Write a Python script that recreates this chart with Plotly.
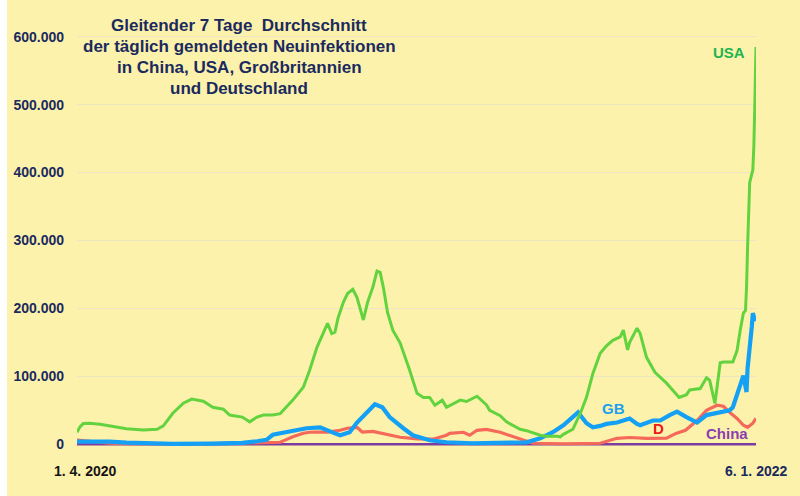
import plotly.graph_objects as go

# ---------------- data (7-day average of daily new infections, in thousands) ----------------
usa_dates = ["2020-04-01","2020-04-04","2020-04-07","2020-04-13","2020-04-23","2020-05-02","2020-05-18","2020-06-03",
             "2020-06-16","2020-06-22","2020-07-01","2020-07-11","2020-07-19","2020-07-30","2020-08-08","2020-08-18",
             "2020-08-24","2020-09-05","2020-09-12","2020-09-19","2020-09-25","2020-10-04","2020-10-11","2020-10-14",
             "2020-10-23","2020-11-02","2020-11-08","2020-11-15","2020-11-21","2020-11-25","2020-11-29","2020-12-02",
             "2020-12-05","2020-12-10","2020-12-14","2020-12-19","2020-12-23","2020-12-28","2020-12-29","2021-01-02",
             "2021-01-07","2021-01-11","2021-01-14","2021-01-17","2021-01-21","2021-01-26","2021-02-02","2021-02-11",
             "2021-02-18","2021-02-24","2021-03-02","2021-03-07","2021-03-14","2021-03-18","2021-03-31","2021-04-06",
             "2021-04-16","2021-04-25","2021-04-28","2021-05-08","2021-05-14","2021-05-27","2021-06-02","2021-06-15",
             "2021-06-21","2021-07-01","2021-07-04","2021-07-07","2021-07-16","2021-07-23","2021-07-29","2021-08-04",
             "2021-08-11","2021-08-17","2021-08-23","2021-08-30","2021-09-02","2021-09-06","2021-09-08","2021-09-15",
             "2021-09-18","2021-09-24","2021-10-02","2021-10-13","2021-10-25","2021-11-01","2021-11-04","2021-11-14",
             "2021-11-20","2021-11-23","2021-11-28","2021-12-03","2021-12-06","2021-12-15","2021-12-19","2021-12-22",
             "2021-12-25","2021-12-27","2021-12-28","2021-12-29","2021-12-30","2021-12-31","2022-01-03","2022-01-04",
             "2022-01-05","2022-01-06"]
usa_values = [17.7, 26, 30.5, 31, 29.5, 27, 23, 21,
              22, 27, 45.7, 60.4, 66.5, 63.4, 54.5, 51.6,
              43, 40, 33, 40, 43, 43, 45, 50,
              65, 84, 109, 143, 165, 178, 163, 165,
              186, 209, 222, 228, 216, 186, 183, 209,
              231, 255, 253, 231, 194, 168, 149, 109,
              75, 69, 69, 57.5, 64.9, 54.5, 65, 63,
              70.8, 58, 50, 42, 33, 22, 20, 13.3,
              12, 11.8, 11, 14.7, 22.1, 45, 69, 104,
              134, 145, 153, 158, 168, 139, 150, 171,
              163, 128, 106, 90, 69, 73, 80, 82,
              98, 94, 60, 120, 121, 121, 138, 168,
              193, 197, 230, 290, 345, 385, 404, 440,
              510, 585]

gb_dates = ["2020-04-01","2020-04-13","2020-05-02","2020-05-18","2020-06-09","2020-07-01","2020-08-08","2020-09-05",
            "2020-09-19","2020-09-28","2020-10-04","2020-10-11","2020-10-23","2020-11-05","2020-11-18","2020-11-25",
            "2020-12-02","2020-12-07","2020-12-16","2020-12-23","2020-12-31","2021-01-09","2021-01-16","2021-01-23",
            "2021-02-05","2021-02-14","2021-03-02","2021-03-18","2021-04-12","2021-05-27","2021-06-02","2021-06-15",
            "2021-06-27","2021-07-07","2021-07-15","2021-07-21","2021-07-29","2021-08-04","2021-08-11","2021-08-17",
            "2021-08-27","2021-09-02","2021-09-08","2021-09-15","2021-09-18","2021-09-30","2021-10-07","2021-10-16",
            "2021-10-23","2021-11-01","2021-11-11","2021-11-20","2021-11-30","2021-12-12","2021-12-15","2021-12-20",
            "2021-12-25","2021-12-28","2021-12-29","2022-01-02","2022-01-03","2022-01-05","2022-01-06"]
gb_values = [4, 4.5, 4, 2.5, 1.3, 0.7, 0.9, 2,
             4.5, 6.5, 14, 16, 20, 23.6, 25, 20,
             16, 13.3, 17.7, 32, 45, 59, 54.5, 40,
             23.6, 13.3, 6, 3, 1.5, 1.5, 2.9, 8.8,
             17.7, 28, 38, 47, 31, 25, 27, 30,
             32, 35, 38, 30, 28, 35, 35, 43,
             48, 40, 32, 43, 46, 50, 54.5, 80,
             101, 77, 112, 173, 193, 182, 186]

de_dates = ["2020-04-01","2020-04-13","2020-05-02","2020-05-18","2020-06-16","2020-07-19","2020-08-18","2020-09-19",
            "2020-09-28","2020-10-11","2020-10-14","2020-10-23","2020-11-02","2020-11-08","2020-11-15","2020-11-25",
            "2020-12-07","2020-12-14","2020-12-23","2020-12-28","2021-01-07","2021-01-11","2021-01-17","2021-02-02",
            "2021-02-18","2021-03-05","2021-03-18","2021-03-21","2021-04-03","2021-04-09","2021-04-16","2021-04-25",
            "2021-05-08","2021-05-24","2021-06-08","2021-07-07","2021-08-11","2021-08-27","2021-09-08","2021-09-24",
            "2021-10-13","2021-10-22","2021-10-31","2021-11-11","2021-11-20","2021-11-30","2021-12-06","2021-12-12",
            "2021-12-19","2021-12-25","2021-12-29","2022-01-03","2022-01-06"]
de_values = [6, 4, 1.5, 0.8, 0.4, 0.5, 1.2, 1.8,
             1.8, 3, 5, 11, 16.2, 17.7, 18, 18,
             20.6, 23.6, 25, 18, 19, 17.7, 14.7, 10.3,
             8, 7.5, 13.3, 16, 17.7, 13.3, 20.6, 22,
             17.7, 8.8, 1.5, 0.8, 1.5, 8.8, 10, 8.8,
             9, 16, 20.6, 35, 50, 57.5, 56, 47,
             38, 28, 25, 31, 38]

cn_dates = ["2020-04-01","2020-07-30","2021-01-11","2021-08-04","2021-12-25","2022-01-06"]
cn_values = [0.08, 0.1, 0.1, 0.1, 0.15, 0.17]

y_tick_values = [0, 100, 200, 300, 400, 500, 600]
y_tick_labels = ["0", "100.000", "200.000", "300.000", "400.000", "500.000", "600.000"]
x_range = ["2020-04-01", "2022-01-06"]
x_tick_labels = ["1. 4. 2020", "6. 1. 2022"]

title_lines = ["Gleitender 7 Tage&nbsp; Durchschnitt",
               "der täglich gemeldeten Neuinfektionen",
               "in China, USA, Großbritannien",
               "und Deutschland"]

for d, v in [(usa_dates, usa_values), (gb_dates, gb_values), (de_dates, de_values), (cn_dates, cn_values)]:
    assert len(d) == len(v)

# ---------------- styles ----------------
BG = "#FDF2AC"
NAVY = "#1B2A5E"
FONT = "Liberation Sans, Arial, Helvetica, sans-serif"

fig = go.Figure()
fig.add_trace(go.Scatter(x=cn_dates, y=cn_values, mode="lines", name="China",
                         line=dict(color="#7D3CA0", width=2.5)))
fig.add_trace(go.Scatter(x=de_dates, y=de_values, mode="lines", name="D",
                         line=dict(color="#F5695A", width=3.2)))
fig.add_trace(go.Scatter(x=gb_dates, y=gb_values, mode="lines", name="GB",
                         line=dict(color="#14A0F5", width=4.2)))
fig.add_trace(go.Scatter(x=usa_dates, y=usa_values, mode="lines", name="USA",
                         line=dict(color="#62D33F", width=3)))

title_y = [1.0206, 0.9697, 0.9189, 0.8692]
annotations = [
    dict(text=line, xref="paper", yref="paper", x=0.2386, y=ty,
         xanchor="center", yanchor="middle", showarrow=False,
         font=dict(family=FONT, size=17, color=NAVY, weight="bold"))
    for line, ty in zip(title_lines, title_y)
]
annotations += [
    dict(text="USA", xref="paper", yref="paper", x=0.9602, y=0.9564, xanchor="center", yanchor="middle",
         showarrow=False, font=dict(family=FONT, size=15, color="#1EB450", weight="bold")),
    dict(text="GB", xref="paper", yref="paper", x=0.7894, y=0.0944, xanchor="center", yanchor="middle",
         showarrow=False, font=dict(family=FONT, size=15, color="#1BA0F0", weight="bold")),
    dict(text="D", xref="paper", yref="paper", x=0.8557, y=0.046, xanchor="center", yanchor="middle",
         showarrow=False, font=dict(family=FONT, size=15, color="#F01818", weight="bold")),
    dict(text="China", xref="paper", yref="paper", x=0.9573, y=0.0315, xanchor="center", yanchor="middle",
         showarrow=False, font=dict(family=FONT, size=15, color="#8A3FB0", weight="bold")),
    dict(text=x_tick_labels[0], xref="x", yref="paper", x=x_range[0], xshift=8, y=-0.0581,
         xanchor="center", yanchor="middle", showarrow=False,
         font=dict(family=FONT, size=14, color="#151515", weight="bold")),
    dict(text=x_tick_labels[1], xref="x", yref="paper", x=x_range[1], y=-0.0581,
         xanchor="center", yanchor="middle", showarrow=False,
         font=dict(family=FONT, size=14, color=NAVY, weight="bold")),
    # white strip at the left edge of the picture
    dict(text=" ", xref="paper", yref="paper", x=-0.1134, y=1.0823, xanchor="left", yanchor="top",
         showarrow=False, width=7, height=496, bgcolor="white", borderpad=0, borderwidth=0,
         font=dict(size=1)),
]

fig.update_layout(
    width=800, height=496,
    margin=dict(l=77, r=44, t=34, b=49),
    paper_bgcolor=BG, plot_bgcolor=BG,
    showlegend=False,
    annotations=annotations,
    xaxis=dict(range=x_range, showgrid=False, showticklabels=False, zeroline=False, showline=False),
    yaxis=dict(range=[-4, 604], tickvals=y_tick_values, ticktext=y_tick_labels,
               showgrid=True, gridcolor="#EDE5C3", gridwidth=1, zeroline=False, showline=False,
               ticks="", ticklabelstandoff=12,
               tickfont=dict(family=FONT, size=14, color=NAVY, weight="bold")),
)

fig.write_html("out.html", config={"displayModeBar": False},
               post_script="document.body.style.margin='0';")
